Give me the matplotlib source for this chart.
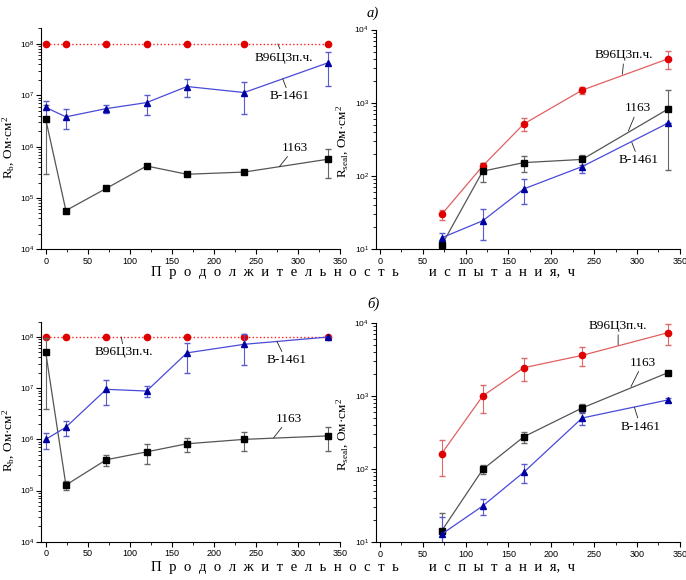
import numpy as np
import matplotlib
matplotlib.use('Agg')
import matplotlib.pyplot as plt
from matplotlib.ticker import LogLocator, FuncFormatter, MultipleLocator, NullFormatter

plt.rcParams['font.family'] = ['Liberation Sans', 'DejaVu Sans']
plt.rcParams['mathtext.fontset'] = 'custom'
plt.rcParams['mathtext.rm'] = 'Liberation Serif'
plt.rcParams['mathtext.sf'] = 'Liberation Sans'
plt.rcParams['mathtext.it'] = 'Liberation Serif:italic'

# продолжительность испытания, ч
hours = [0, 24, 72, 120, 168, 236, 336]
hours_seal = [72, 120, 168, 236, 336]

# а) Rb
rb_a_b96 = [1e8, 1e8, 1e8, 1e8, 1e8, 1e8, 1e8]
rb_a_b1461 = [5.8e6, 3.8e6, 5.5e6, 7.2e6, 1.48e7, 1.13e7, 4.3e7]
rb_a_b1461_err = [2.1e6, 1.6e6, 1.0e6, 3.0e6, 5.5e6, 7.0e6, 2.8e7]
rb_a_1163 = [3.4e6, 5.7e4, 1.54e5, 4.2e5, 2.9e5, 3.2e5, 5.7e5]
rb_a_1163_err = [3.1e6, 0, 0, 0, 0, 0, 3.2e5]

# а) Rseal
rs_a_b96 = [30, 138, 517, 1490, 3980]
rs_a_b96_err = [5, 15, 100, 170, 1100]
rs_a_1163 = [11.4, 117, 153, 169, 820]
rs_a_1163_err = [0, 33, 38, 28, 700]
rs_a_b1461 = [14.4, 24.6, 67, 135, 528]
rs_a_b1461_err = [2.5, 11, 25, 25, 0]

# б) Rb
rb_b_b96 = [1e8, 1e8, 1e8, 1e8, 1e8, 1e8, 1e8]
rb_b_b1461 = [1.0e6, 1.73e6, 9.5e6, 8.8e6, 4.9e7, 7.2e7, 1.0e8]
rb_b_b1461_err = [3.5e5, 5.5e5, 4.7e6, 2.2e6, 2.9e7, 4.3e7, 0]
rb_b_1163 = [5.0e7, 1.28e5, 4.0e5, 5.7e5, 8.2e5, 1.0e6, 1.17e6]
rb_b_1163_err = [4.6e7, 2.5e4, 1e5, 2.4e5, 2.6e5, 4.2e5, 5.7e5]

# б) Rseal
rs_b_b96 = [163, 1000, 2430, 3580, 7300]
rs_b_b96_err = [83, 410, 820, 1030, 2300]
rs_b_1163 = [14.3, 99, 277, 684, 2075]
rs_b_1163_err = [11, 14, 48, 100, 0]
rs_b_b1461 = [12.9, 31.4, 91, 499, 880]
rs_b_b1461_err = [9.5, 8, 27, 95, 50]

serif = 'Liberation Serif'


def sci(v, pos):
    return r'$\mathsf{10^{%d}}$' % int(round(np.log10(v)))


def setup(ax, xmin, ylim):
    ax.set_yscale('log')
    ax.set_xlim(xmin, 350)
    ax.set_ylim(*ylim)
    ax.spines['top'].set_visible(False)
    ax.spines['right'].set_visible(False)
    ax.xaxis.set_major_locator(MultipleLocator(50))
    ax.xaxis.set_minor_locator(MultipleLocator(25))
    ax.yaxis.set_major_locator(LogLocator(base=10))
    ax.yaxis.set_minor_locator(LogLocator(base=10, subs=np.arange(2, 10)))
    ax.yaxis.set_major_formatter(FuncFormatter(sci))
    ax.yaxis.set_minor_formatter(NullFormatter())
    ax.tick_params(which='major', direction='out', length=3.5, width=0.8, labelsize=6.5, pad=2)
    ax.tick_params(axis='y', which='major', labelsize=6, pad=1.5)
    ax.tick_params(which='minor', direction='out', length=2, width=0.6)
    ax.patch.set_alpha(0)


def plot_rb(ax, b96, b1461, e1461, a1163, e1163):
    ax.plot(hours, b96, ':', color='#ff2020', lw=1.0, marker='o', ms=4.5, mfc='#e00000', mec='#e00000')
    ax.errorbar(hours, a1163, yerr=e1163, fmt='-s', color='#555555', lw=0.9, ms=4,
                mfc='black', mec='black', ecolor='#666666', elinewidth=0.8, capsize=2.5)
    ax.errorbar(hours, b1461, yerr=e1461, fmt='-^', color='#4a4ad8', lw=0.9, ms=4.5,
                mfc='#0000a0', mec='#0000a0', ecolor='#5a5ad0', elinewidth=0.8, capsize=2.5)


def plot_rs(ax, b96, e96, a1163, e1163, b1461, e1461):
    ax.errorbar(hours_seal, b96, yerr=e96, fmt='-o', color='#e06060', lw=0.9, ms=4.5,
                mfc='#e00000', mec='#e00000', ecolor='#e06a6a', elinewidth=0.8, capsize=2.5)
    ax.errorbar(hours_seal, a1163, yerr=e1163, fmt='-s', color='#555555', lw=0.9, ms=4,
                mfc='black', mec='black', ecolor='#666666', elinewidth=0.8, capsize=2.5)
    ax.errorbar(hours_seal, b1461, yerr=e1461, fmt='-^', color='#4a4ad8', lw=0.9, ms=4.5,
                mfc='#0000a0', mec='#0000a0', ecolor='#5a5ad0', elinewidth=0.8, capsize=2.5)


def note(ax, text, xy, xytext):
    ax.annotate(text, xy=xy, xytext=xytext, ha='center', va='center',
                fontsize=9.5, fontfamily=serif,
                arrowprops=dict(arrowstyle='-', color='#222222', lw=0.6, shrinkA=0, shrinkB=0))


fig = plt.figure(figsize=(6.86, 5.8), dpi=100)
ax1 = fig.add_axes([0.0598, 0.570, 0.4358, 0.381])
ax2 = fig.add_axes([0.548, 0.570, 0.443, 0.379])
ax3 = fig.add_axes([0.0598, 0.066, 0.4358, 0.3795])
ax4 = fig.add_axes([0.548, 0.065, 0.443, 0.3786])

plot_rb(ax1, rb_a_b96, rb_a_b1461, rb_a_b1461_err, rb_a_1163, rb_a_1163_err)
plot_rs(ax2, rs_a_b96, rs_a_b96_err, rs_a_1163, rs_a_1163_err, rs_a_b1461, rs_a_b1461_err)
plot_rb(ax3, rb_b_b96, rb_b_b1461, rb_b_b1461_err, rb_b_1163, rb_b_1163_err)
plot_rs(ax4, rs_b_b96, rs_b_b96_err, rs_b_1163, rs_b_1163_err, rs_b_b1461, rs_b_b1461_err)

for ax in (ax1, ax3):
    setup(ax, -5.6, (1e4, 2e8))
    ax.set_ylabel(r'R$_{\mathrm{b}}$, Ом·см$^{\mathrm{2}}$', fontsize=9.5, fontfamily=serif)
    ax.yaxis.set_label_coords(-0.08, 0.46)
for ax in (ax2, ax4):
    setup(ax, -4.7, (10, 1e4))
    ax.set_ylabel(r'R$_{\mathrm{seal}}$, Ом·см$^{\mathrm{2}}$', fontsize=9.5, fontfamily=serif)
    ax.yaxis.set_label_coords(-0.082, 0.49)

# подписи кривых
note(ax1, 'В96Ц3п.ч.', (276, 1e8), (283, 5.4e7))
note(ax1, 'В-1461', (282, 2.07e7), (290, 9.5e6))
note(ax1, '1163', (278, 4.1e5), (296, 9.5e5))

note(ax2, 'В96Ц3п.ч.', (283, 2460), (285, 4470))
note(ax2, '1163', (290, 415), (301, 840))
note(ax2, 'В-1461', (294, 288), (302, 165))

note(ax3, 'В96Ц3п.ч.', (90, 1e8), (93, 5.0e7))
note(ax3, 'В-1461', (275, 8.2e7), (286, 3.5e7))
note(ax3, '1163', (271, 1.07e6), (289, 2.55e6))

note(ax4, 'В96Ц3п.ч.', (278, 4960), (278, 9000))
note(ax4, '1163', (293, 1340), (307, 2840))
note(ax4, 'В-1461', (297, 700), (304, 380))

xlabel = 'П р о д о л ж и т е л ь н о с т ь    и с п ы т а н и я, ч'.replace(' ', '  ')
fig.text(0.529, 0.531, xlabel, ha='center', va='center', fontsize=10.6, fontfamily=serif)
fig.text(0.529, 0.022, xlabel, ha='center', va='center', fontsize=10.6, fontfamily=serif)

fig.text(0.535, 0.978, 'а)', ha='left', va='center', fontsize=10.5, fontfamily=serif, style='italic')
fig.text(0.535, 0.476, 'б)', ha='left', va='center', fontsize=10.5, fontfamily=serif, style='italic')

fig.savefig('out.png', dpi=100)
